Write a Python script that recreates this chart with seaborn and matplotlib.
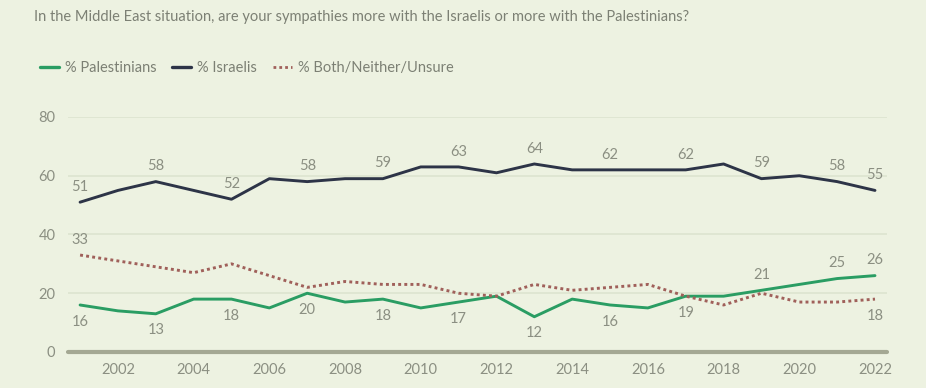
import matplotlib
matplotlib.use("Agg")
import matplotlib.pyplot as plt
import seaborn as sns
import pandas as pd
from matplotlib.lines import Line2D

years = list(range(2001, 2023))
palestinians = [16, 14, 13, 18, 18, 15, 20, 17, 18, 15, 17, 19, 12, 18, 16, 15, 19, 19, 21, 23, 25, 26]
israelis = [51, 55, 58, 55, 52, 59, 58, 59, 59, 63, 63, 61, 64, 62, 62, 62, 62, 64, 59, 60, 58, 55]
both_neither = [33, 31, 29, 27, 30, 26, 22, 24, 23, 23, 20, 19, 23, 21, 22, 23, 19, 16, 20, 17, 17, 18]

series_names = ["% Palestinians", "% Israelis", "% Both/Neither/Unsure"]
title = "In the Middle East situation, are your sympathies more with the Israelis or more with the Palestinians?"
y_ticks = [0, 20, 40, 60, 80]
x_ticks = list(range(2002, 2023, 2))

# which years get a value label, and on which side of the line
label_years = [
    ("% Israelis", [2001, 2003, 2005, 2007, 2009, 2011, 2013, 2015, 2017, 2019, 2021, 2022], "above"),
    ("% Palestinians", [2001, 2003, 2005, 2007, 2009, 2011, 2013, 2015, 2017], "below"),
    ("% Palestinians", [2019, 2021, 2022], "above"),
    ("% Both/Neither/Unsure", [2001], "above"),
    ("% Both/Neither/Unsure", [2022], "below"),
]

BG = "#edf2e1"
GREEN = "#2a9d63"
NAVY = "#2d3447"
RED = "#a0605a"
TEXT = "#8b8f82"
GRID = "#dfe6d2"
AXIS = "#a4a893"

df = pd.DataFrame({
    "year": years * 3,
    "value": palestinians + israelis + both_neither,
    "series": [series_names[0]] * len(years) + [series_names[1]] * len(years) + [series_names[2]] * len(years),
})
values_by_series = dict(zip(series_names, [palestinians, israelis, both_neither]))

sns.set_theme(style="white")
plt.rcParams["font.family"] = ["Lato", "DejaVu Sans"]

fig = plt.figure(figsize=(9.26, 3.88), dpi=100, facecolor=BG)
ax = fig.add_axes([0.0734, 0.0928, 0.8846, 0.6057])
ax.set_facecolor(BG)

palette = {series_names[0]: GREEN, series_names[1]: NAVY, series_names[2]: RED}
dashes = {series_names[0]: "", series_names[1]: "", series_names[2]: (1, 1.1)}
sns.lineplot(data=df, x="year", y="value", hue="series", style="series",
             palette=palette, dashes=dashes, linewidth=2.1, legend=False, ax=ax,
             clip_on=False, zorder=3)

ax.set_xlim(2000.68, 2022.32)
ax.set_ylim(0, 80)
ax.set_yticks(y_ticks)
ax.set_xticks(x_ticks)
ax.set_xticklabels([str(x) for x in x_ticks])
for s in ax.spines.values():
    s.set_visible(False)
for yv in y_ticks[1:]:
    ax.axhline(yv, color=GRID, lw=1.4, zorder=1)
ax.axhline(0, color=AXIS, lw=3, zorder=2, clip_on=False)
ax.tick_params(axis="both", length=0, labelsize=10.5, labelcolor=TEXT)
ax.tick_params(axis="y", pad=9)
ax.tick_params(axis="x", pad=8)
ax.set_xlabel("")
ax.set_ylabel("")

for name, yrs, side in label_years:
    vals = values_by_series[name]
    for yr in yrs:
        v = vals[years.index(yr)]
        dy = 11 if side == "above" else -12
        ax.annotate(str(v), (yr, v), xytext=(0, dy), textcoords="offset points",
                    ha="center", va="center", fontsize=10.5, color=TEXT, zorder=4)

fig.text(0.037, 0.955, title, fontsize=10.5, color="#7c8074", ha="left", va="center")

handles = [
    Line2D([], [], color=GREEN, lw=2.4),
    Line2D([], [], color=NAVY, lw=2.4),
    Line2D([], [], color=RED, lw=2.0, linestyle=(0, (1, 1.1))),
]
leg = fig.legend(handles, series_names, loc="center left", bbox_to_anchor=(0.029, 0.825),
                 ncol=3, frameon=False, fontsize=10.5, handlelength=1.3, handletextpad=0.4,
                 columnspacing=1.1, labelcolor="#7c8074")

fig.savefig("out.png", dpi=100, facecolor=BG)
